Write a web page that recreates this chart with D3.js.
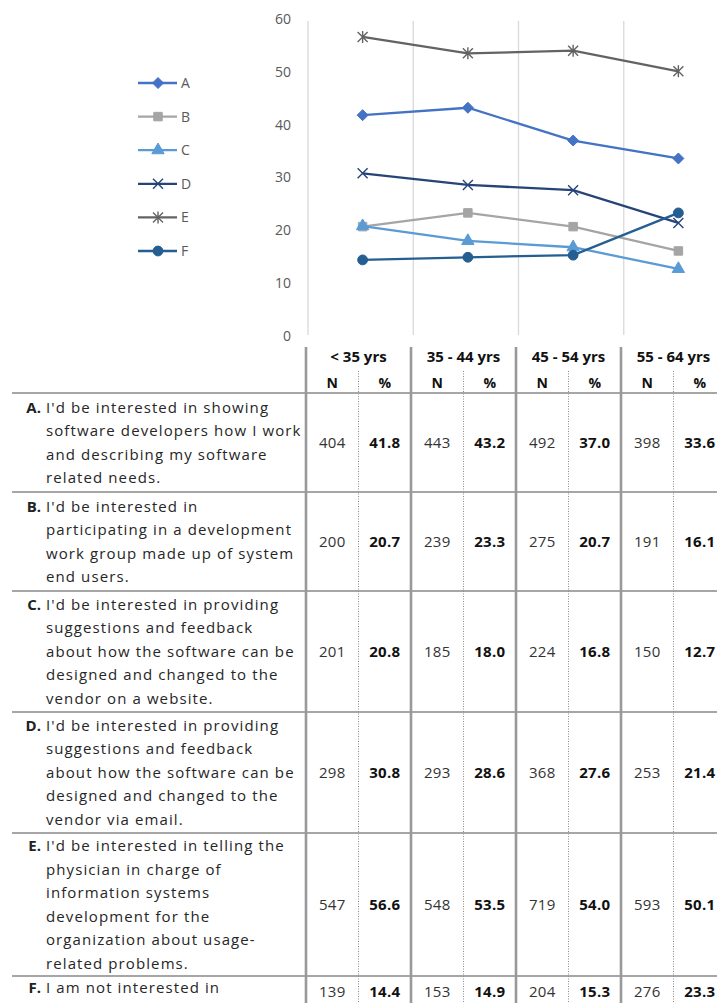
<!DOCTYPE html>
<html>
<head>
<meta charset="utf-8">
<script src="https://cdn.jsdelivr.net/npm/d3@7"></script>
<style>
  body { margin: 0; background: #fff; }
  text { font-family: "Open Sans", sans-serif; }
</style>
</head>
<body>
<svg id="chart"></svg>
<script>
// data
var ageGroups = ["< 35 yrs", "35 - 44 yrs", "45 - 54 yrs", "55 - 64 yrs"];
var seriesKeys = ["A", "B", "C", "D", "E", "F"];
var nA = [404, 443, 492, 398], pctA = [41.8, 43.2, 37.0, 33.6];
var nB = [200, 239, 275, 191], pctB = [20.7, 23.3, 20.7, 16.1];
var nC = [201, 185, 224, 150], pctC = [20.8, 18.0, 16.8, 12.7];
var nD = [298, 293, 368, 253], pctD = [30.8, 28.6, 27.6, 21.4];
var nE = [547, 548, 719, 593], pctE = [56.6, 53.5, 54.0, 50.1];
var nF = [139, 153, 204, 276], pctF = [14.4, 14.9, 15.3, 23.3];
var yTicks = [0, 10, 20, 30, 40, 50, 60];
var labelA = ["I'd be interested in showing", "software developers how I work", "and describing my software", "related needs."];
var labelB = ["I'd be interested in", "participating in a development", "work group made up of system", "end users."];
var labelC = ["I'd be interested in providing", "suggestions and feedback", "about how the software can be", "designed and changed to the", "vendor on a website."];
var labelD = ["I'd be interested in providing", "suggestions and feedback", "about how the software can be", "designed and changed to the", "vendor via email."];
var labelE = ["I'd be interested in telling the", "physician in charge of", "information systems", "development for the", "organization about usage-", "related problems."];
var labelF = ["I am not interested in"];

var counts = [nA, nB, nC, nD, nE, nF];
var pcts = [pctA, pctB, pctC, pctD, pctE, pctF];
var labels = [labelA, labelB, labelC, labelD, labelE, labelF];
var colors = ["#4472c4", "#a5a5a5", "#5b9bd5", "#264478", "#636363", "#255e91"];

var series = seriesKeys.map(function(k, i) {
  return {
    key: k, color: colors[i], lines: labels[i],
    values: ageGroups.map(function(a, j) { return { age: a, n: counts[i][j], pct: pcts[i][j] }; })
  };
});

var W = 717, H = 1003;
var svg = d3.select('#chart').attr('width', W).attr('height', H);

// chart
var x = d3.scaleBand().domain(ageGroups).range([308, 729]);
var y = d3.scaleLinear().domain([0, 60]).range([336, 19]);
var px = function(d) { return x(d.age) + x.bandwidth() / 2 + 2; };

svg.append('g').selectAll('line').data(ageGroups).enter().append('line')
  .attr('x1', function(d) { return x(d); }).attr('x2', function(d) { return x(d); })
  .attr('y1', y(60) + 2).attr('y2', y(0) - 1)
  .attr('stroke', '#d9d9d9').attr('stroke-width', 1.3);

var yAxis = svg.append('g').attr('transform', 'translate(308,0)')
  .call(d3.axisLeft(y).tickValues(yTicks).tickSize(0).tickPadding(17));
yAxis.select('.domain').remove();
yAxis.selectAll('text').attr('fill', '#595959').style('font-size', '14px');

var marker = function(sel, key, color) {
  var s;
  if (key === 'A') s = 'M0,-5.5L5.5,0L0,5.5L-5.5,0Z';
  if (key === 'B') s = d3.symbol(d3.symbolSquare, 72)();
  if (key === 'C') s = d3.symbol(d3.symbolTriangle, 66)();
  if (key === 'F') s = d3.symbol(d3.symbolCircle, 76)();
  if (key === 'D') s = 'M-5,-5L5,5M-5,5L5,-5';
  if (key === 'E') s = 'M-5,-5L5,5M-5,5L5,-5M0,-6V6';
  sel.attr('d', s);
  if (key === 'D' || key === 'E') {
    sel.attr('fill', 'none').attr('stroke', color).attr('stroke-width', 1.4);
  } else {
    sel.attr('fill', color).attr('stroke', color).attr('stroke-width', 1);
  }
};

var line = d3.line().x(px).y(function(d) { return y(d.pct); });

var sg = svg.append('g').selectAll('g').data(series).enter().append('g');
sg.append('path').attr('d', function(d) { return line(d.values); })
  .attr('fill', 'none').attr('stroke', function(d) { return d.color; }).attr('stroke-width', 2.3);
sg.each(function(s) {
  d3.select(this).selectAll('path.m').data(s.values).enter().append('path').attr('class', 'm')
    .attr('transform', function(d) { return 'translate(' + px(d) + ',' + y(d.pct) + ')'; })
    .call(marker, s.key, s.color);
});

// legend
var lg = svg.append('g').selectAll('g').data(series).enter().append('g')
  .attr('transform', function(d, i) { return 'translate(138,' + (83 + i * 33.6) + ')'; });
lg.append('line').attr('x1', 0).attr('x2', 39)
  .attr('stroke', function(d) { return d.color; }).attr('stroke-width', 2.3);
lg.append('path').attr('transform', 'translate(20,0)').each(function(d) { d3.select(this).call(marker, d.key, d.color); });
lg.append('text').attr('x', 43).attr('dy', '0.35em').attr('fill', '#595959')
  .style('font-size', '14px').text(function(d) { return d.key; });

// table
var tx = d3.scaleBand().domain(ageGroups).range([306, 726]);
var bw = tx.bandwidth();
var headBottom = 393, lineH = 23.5;
var rowTop = headBottom;
series.forEach(function(s) {
  s.top = rowTop;
  s.h = s.lines.length * 22 + 11;
  rowTop += s.h;
});

var tg = svg.append('g');
tg.selectAll('text.grp').data(ageGroups).enter().append('text').attr('class', 'grp')
  .attr('x', function(d) { return tx(d) + bw / 2; }).attr('y', 357).attr('dy', '0.35em')
  .attr('text-anchor', 'middle').style('font-size', '15px').style('font-weight', 'bold').attr('fill', '#111')
  .text(function(d) { return d; });
ageGroups.forEach(function(a) {
  [['N', 0.25], ['%', 0.75]].forEach(function(h) {
    tg.append('text').attr('x', tx(a) + bw * h[1]).attr('y', 383).attr('dy', '0.35em')
      .attr('text-anchor', 'middle').style('font-size', '14px').style('font-weight', 'bold').attr('fill', '#111')
      .text(h[0]);
  });
});

// horizontal rules
tg.selectAll('line.h').data([headBottom].concat(series.map(function(s) { return s.top + s.h; })))
  .enter().append('line').attr('class', 'h')
  .attr('x1', 12).attr('x2', W).attr('y1', function(d) { return d; }).attr('y2', function(d) { return d; })
  .attr('stroke', '#a6a6a6').attr('stroke-width', 2);

// vertical rules
tg.selectAll('line.v').data(ageGroups).enter().append('line').attr('class', 'v')
  .attr('x1', function(d) { return tx(d); }).attr('x2', function(d) { return tx(d); })
  .attr('y1', 347).attr('y2', H).attr('stroke', '#999').attr('stroke-width', 2.6);
tg.selectAll('line.dot').data(ageGroups).enter().append('line').attr('class', 'dot')
  .attr('x1', function(d) { return tx(d) + bw / 2; }).attr('x2', function(d) { return tx(d) + bw / 2; })
  .attr('y1', 371).attr('y2', H).attr('stroke', '#8c8c8c').attr('stroke-width', 1)
  .attr('stroke-dasharray', '1,1.5');

// rows
var rows = tg.selectAll('g.row').data(series).enter().append('g').attr('class', 'row');
rows.each(function(s) {
  var g = d3.select(this);
  var n = s.lines.length;
  var cy = s.top + s.h / 2;
  var firstY = n === 1 ? s.top + 12 : cy - (n - 1) * lineH / 2;
  var numY = n === 1 ? s.top + 16 : cy;
  g.append('text').attr('x', 41).attr('y', firstY).attr('dy', '0.35em').attr('text-anchor', 'end')
    .style('font-size', '15px').style('font-weight', 'bold').attr('fill', '#222').text(s.key + '.');
  s.lines.forEach(function(t, i) {
    g.append('text').attr('x', 46).attr('y', firstY + i * lineH).attr('dy', '0.35em')
      .style('font-size', '15px').style('letter-spacing', '1.1px').attr('fill', '#262626').text(t);
  });
  s.values.forEach(function(v) {
    g.append('text').attr('x', tx(v.age) + bw * 0.25).attr('y', numY).attr('dy', '0.35em')
      .attr('text-anchor', 'middle').style('font-size', '15px').style('letter-spacing', '0.3px')
      .attr('fill', '#333').text(v.n);
    g.append('text').attr('x', tx(v.age) + bw * 0.75).attr('y', numY).attr('dy', '0.35em')
      .attr('text-anchor', 'middle').style('font-size', '15px').style('letter-spacing', '0.3px')
      .style('font-weight', 'bold').attr('fill', '#111')
      .text(d3.format('.1f')(v.pct));
  });
});
</script>
</body>
</html>
